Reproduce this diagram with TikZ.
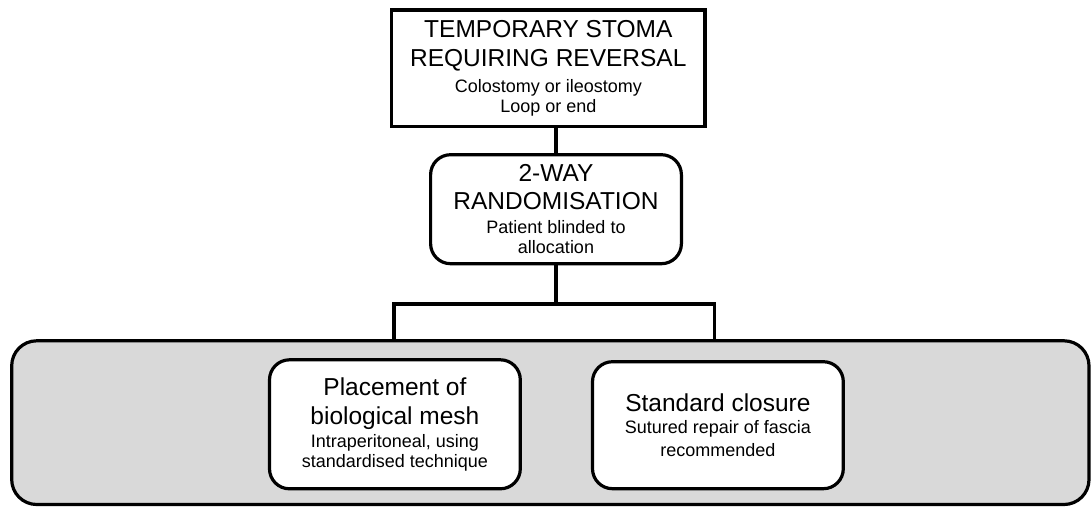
\documentclass[tikz,border=0pt]{standalone}
\usepackage{fontspec}
\setmainfont{Liberation Sans}
\definecolor{groupgray}{HTML}{D9D9D9}
\newcommand{\bigtxt}{\fontsize{24.5}{20}\selectfont}
\newcommand{\smalltxt}{\fontsize{18}{20}\selectfont}
\tikzset{
  boxbase/.style={draw=black, line width=3.2pt, fill=white, inner sep=0pt, align=center,
    font=\smalltxt},
  plainbox/.style={boxbase, rectangle},
  roundbox/.style={boxbase, rectangle, rounded corners=20pt},
  groupbox/.style={draw=black, line width=3.2pt, fill=groupgray, rectangle, rounded corners=25pt, inner sep=0pt},
  link/.style={draw=black, line width=3.2pt}
}
\begin{document}
\begin{tikzpicture}[x=1pt, y=-1pt]
\lineskiplimit=-100pt
\useasboundingbox (0,0) rectangle (1091,506);

% grey group
\node[groupbox, minimum width=1077.3pt, minimum height=163.7pt] (grp) at (550.35,422.65) {};

% top box
\node[plainbox, minimum width=313.3pt, minimum height=116.5pt] (top) at (548.3,68.3)
  {\bigtxt TEMPORARY STOMA\\[8.3pt]\bigtxt REQUIRING REVERSAL\\[6.7pt]Colostomy or ileostomy\\[-0.7pt]Loop or end};

% randomisation box
\node[roundbox, minimum width=250.8pt, minimum height=109pt] (mid) at (556,209.2)
  {\bigtxt 2-WAY\\[8.3pt]\bigtxt RANDOMISATION\\[3.3pt]Patient blinded to\\[0.7pt]allocation};

% arms
\node[roundbox, minimum width=250.8pt, minimum height=129pt] (mesh) at (394.9,424.3)
  {\bigtxt Placement of\\[9.3pt]\bigtxt biological mesh\\[3pt]Intraperitoneal, using\\[-0.7pt]standardised technique};
\node[roundbox, minimum width=250.8pt, minimum height=127pt] (std) at (717.9,425.2)
  {\bigtxt Standard closure\\[2.3pt]Sutured repair of fascia\\[3.3pt]recommended};

% connectors
\coordinate (junc) at (556,304);
\coordinate (bl) at (394,304);
\coordinate (br) at (714.7,304);
\draw[link] (top.south -| mid.north) -- (mid.north);
\draw[link] (mid.south) -- (junc);
\draw[link] (bl |- grp.north) -- (bl) -- (br) -- (br |- grp.north);
\end{tikzpicture}
\end{document}
